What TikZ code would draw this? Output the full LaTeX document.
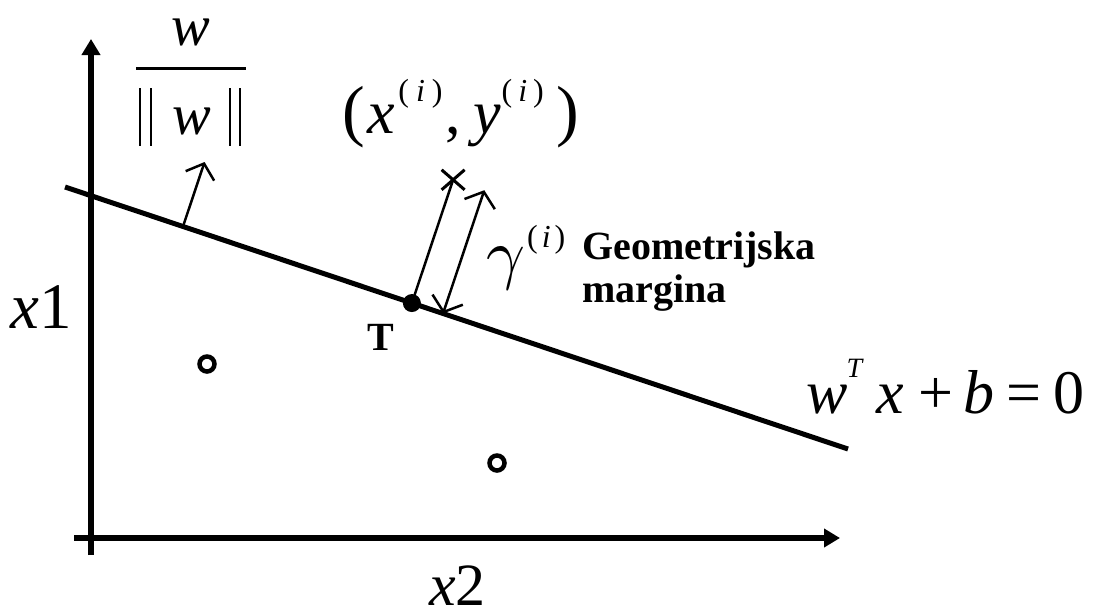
\documentclass[tikz,border=0pt]{standalone}
\usepackage{fontspec}
\setmainfont{Liberation Serif}
\usetikzlibrary{arrows.meta,calc,shapes.misc}
% superscript (i): raise, font size, inner kern
\newcommand\supidx[3]{\raisebox{#1}{\fontsize{#2}{#2}\selectfont(\kern#3\textit{i}\kern#3)}}
\newcommand\bigparen[1]{{\fontsize{68}{68}\selectfont#1}}
\begin{document}
\begin{tikzpicture}[x=1pt,y=-1pt,
  axis/.style={line width=6pt,-{Triangle[length=16pt,width=18pt]}},
  sepline/.style={line width=5pt},
  thinline/.style={line width=2.5pt},
  barb/.style={thinline,-{Straight Barb[length=13pt,width=30pt]}},
  dblbarb/.style={thinline,{Straight Barb[length=13pt,width=32pt]}-{Straight Barb[length=13pt,width=32pt]}},
  datapt/.style={circle,draw,line width=4.5pt,minimum size=15pt,inner sep=0pt},
  lbl/.style={inner sep=0pt,anchor=base west},
  bigmath/.style={font=\fontsize{62}{62}\selectfont},
]
\useasboundingbox (0,0) rectangle (1097,611);
% axes
\coordinate (yb) at (91,555);
\coordinate (yt) at (91,39);
\coordinate (xl) at (74,538);
\coordinate (xr) at (840,538);
\draw[axis] (yb) -- (yt);
\draw[axis] (xl) -- (xr);
% separating line
\coordinate (A) at (65,187);
\coordinate (B) at (848,449);
\draw[sepline] (A) -- (B);
% normal vector
\coordinate (N0) at ($(A)!0.1507!(B)$);
\coordinate (N1) at ($(N0)!68pt!90:(B)$);
\draw[barb] (N0) -- (N1);
% point T and data point
\coordinate (Tc) at ($(A)!0.443!(B)$);
\coordinate (Xc) at ($(Tc)!130pt!90:(B)$);
\node[cross out,draw,line width=3pt,minimum width=20pt,minimum height=17pt,inner sep=0pt] (xm) at (Xc) {};
\draw[thinline] (Tc) -- (xm.center);
\node[circle,fill,inner sep=0pt,minimum size=18pt] (T) at (Tc) {};
% geometric margin
\coordinate (D0) at ($(A)!0.4828!(B)$);
\coordinate (D1) at ($(D0)!130pt!90:(B)$);
\draw[dblbarb] (D0) -- (D1);
% data points
\node[datapt] (p1) at (207,364) {};
\node[datapt] (p2) at (497,463) {};
% labels
\node[lbl,font=\fontsize{65}{65}\selectfont] (x1) at (10,328) {\textit{x}1};
\node[lbl,text depth=0pt,font=\fontsize{60}{60}\selectfont] (x2) at (429,605) {\textit{x}2};
\node[inner sep=0pt,anchor=base,text height=28pt,font=\fontsize{58}{58}\selectfont] (num) at (191,45) {\textit{w}};
\node[inner sep=0pt,anchor=base,font=\fontsize{58}{58}\selectfont] (den) at (192,134) {\textit{w}};
\draw[line width=3pt] (136,68) -- (246,68);
\draw[line width=2.2pt] (140,88) -- (140,146) (151,88) -- (151,146)
                        (230,88) -- (230,146) (240,88) -- (240,146);
\node[lbl,bigmath] (xy) at (342,133) {\bigparen{(}\kern3pt\textit{x}\kern3pt\supidx{32pt}{32}{7pt}\kern3pt,\kern12pt\textit{y}\kern1pt\supidx{32pt}{32}{6pt}\kern13pt\bigparen{)}};
\node[lbl] (gam) at (486,276) {\scalebox{6.8}{$\gamma$}\kern2pt\supidx{29pt}{32}{4pt}};
\node[lbl,align=left,font=\fontsize{40}{43}\selectfont\bfseries] (gm) at (582,302) {Geometrijska\\margina};
\node[lbl,font=\fontsize{40}{40}\selectfont\bfseries] (tl) at (367,350) {T};
\node[lbl,bigmath] (eq) at (806,413) {\textit{w}\kern-1pt\raisebox{36pt}{\fontsize{28}{28}\selectfont\textit{T}}\kern13pt\textit{x}\kern14pt+\kern10pt\textit{b}\kern12pt=\kern12pt0};
\end{tikzpicture}
\end{document}
